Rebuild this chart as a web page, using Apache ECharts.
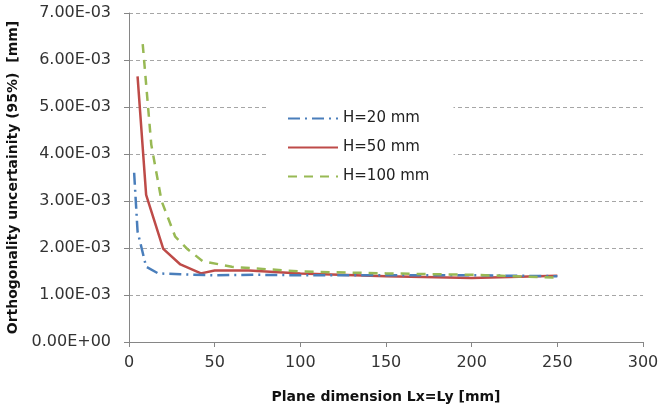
<!DOCTYPE html>
<html><head><meta charset="utf-8">
<script src="https://cdn.jsdelivr.net/npm/echarts@6/dist/echarts.min.js"></script>
<style>html,body{margin:0;padding:0;background:#fff}#c{width:659px;height:409px}</style>
</head><body><div id="c"></div>
<script>
const seriesNames = ['H=20 mm', 'H=50 mm', 'H=100 mm'];
const xH20 = [3, 5, 10, 17, 30, 50, 75, 100, 150, 200, 250];
const yH20 = [0.00360, 0.00235, 0.00160, 0.00146, 0.00144, 0.00142, 0.00143, 0.00142, 0.00142, 0.00142, 0.00140];
const xH50 = [5, 10, 20, 30, 42, 50, 70, 100, 150, 200, 250];
const yH50 = [0.00565, 0.00313, 0.00198, 0.00165, 0.00146, 0.00152, 0.00152, 0.00146, 0.00140, 0.00136, 0.00141];
const xH100 = [8, 13, 19, 27, 34, 43, 60, 100, 150, 200, 250];
const yH100 = [0.00634, 0.00420, 0.00300, 0.00224, 0.00198, 0.00172, 0.00160, 0.00150, 0.00146, 0.00143, 0.00137];
const xTicks = [0, 50, 100, 150, 200, 250, 300];
const yTicks = [0, 0.001, 0.002, 0.003, 0.004, 0.005, 0.006, 0.007];

function expFmt(v) {
  let s = Number(v).toExponential(2).toUpperCase();
  const m = s.match(/^(-?[\d.]+)E([+-])(\d+)$/);
  if (!m) return s;
  return m[1] + 'E' + m[2] + (m[3].length < 2 ? '0' + m[3] : m[3]);
}
const pair = (xs, ys) => xs.map((x, i) => [x, ys[i]]);
const FONT = 'DejaVu Sans';
const chart = echarts.init(document.getElementById('c'), null, {renderer: 'canvas'});
chart.setOption({
  animation: false,
  backgroundColor: '#fff',
  grid: {left: 129, right: 16, top: 13, bottom: 67, containLabel: false, outerBoundsMode: 'none'},
  legend: {
    orient: 'vertical', left: 268, top: 101,
    padding: [10, 24, 10, 19],
    backgroundColor: '#fff',
    itemWidth: 50, itemHeight: 14, itemGap: 14,
    itemStyle: {opacity: 0},
    textStyle: {fontFamily: FONT, fontSize: 15, color: '#222'},
    data: seriesNames
  },
  xAxis: {
    type: 'value', min: 0, max: 300, interval: 50,
    name: 'Plane dimension Lx=Ly [mm]', nameLocation: 'middle', nameGap: 48,
    nameTextStyle: {fontFamily: FONT, fontSize: 14, fontWeight: 'bold', color: '#111'},
    axisLine: {lineStyle: {color: '#868686', width: 1}},
    axisTick: {show: true, length: 5, lineStyle: {color: '#868686'}},
    axisLabel: {fontFamily: FONT, fontSize: 16, color: '#333', margin: 13,
      formatter: v => xTicks.includes(v) ? String(v) : ''},
    splitLine: {show: false}
  },
  yAxis: {
    type: 'value', min: 0, max: 0.007, interval: 0.001,
    name: 'Orthogonality uncertainity (95%)  [mm]', nameLocation: 'middle', nameGap: 101,
    nameTextStyle: {fontFamily: FONT, fontSize: 14, fontWeight: 'bold', color: '#111'},
    axisLine: {show: true, lineStyle: {color: '#868686', width: 1}},
    axisTick: {show: true, length: 5, lineStyle: {color: '#868686'}},
    axisLabel: {fontFamily: FONT, fontSize: 16, color: '#333', margin: 18,
      formatter: v => yTicks.some(t => Math.abs(t - v) < 1e-9) ? expFmt(v) : ''},
    splitLine: {show: true, lineStyle: {color: '#a6a6a6', type: [4, 3], width: 1}}
  },
  series: [
    {name: seriesNames[0], type: 'line', symbol: 'none', data: pair(xH20, yH20),
      lineStyle: {color: '#4A7EBB', width: 2.5, type: [12, 5, 2, 5]}, itemStyle: {color: '#4A7EBB'}, z: 3},
    {name: seriesNames[1], type: 'line', symbol: 'none', data: pair(xH50, yH50),
      lineStyle: {color: '#BE4B48', width: 2.5, type: 'solid'}, itemStyle: {color: '#BE4B48'}, z: 2},
    {name: seriesNames[2], type: 'line', symbol: 'none', data: pair(xH100, yH100),
      lineStyle: {color: '#98B954', width: 2.5, type: [9, 7]}, itemStyle: {color: '#98B954'}, z: 4}
  ]
});
</script></body></html>
